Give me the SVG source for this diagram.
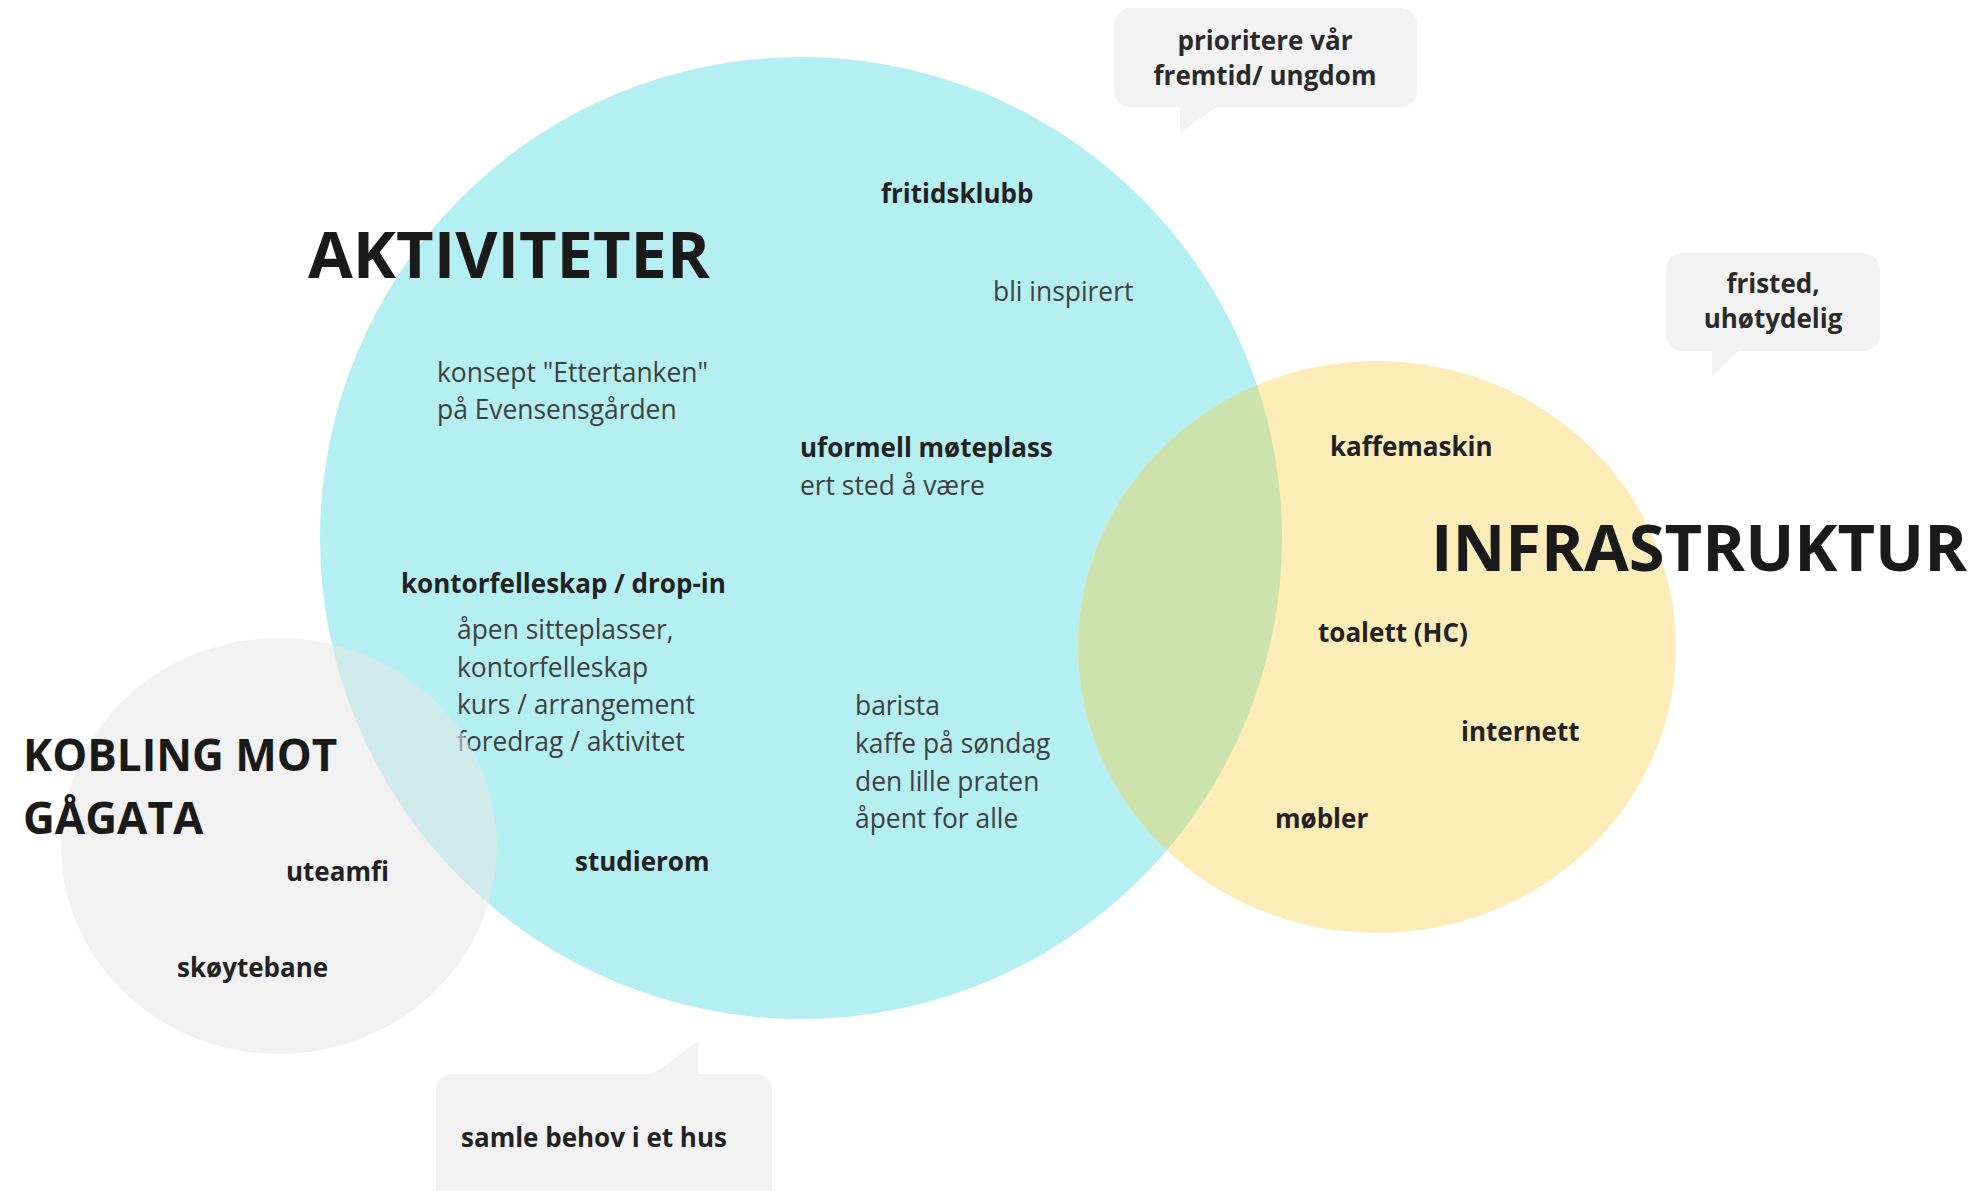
<svg xmlns="http://www.w3.org/2000/svg" width="1974" height="1191" viewBox="0 0 1974 1191">
  <style>
    text { font-family: "Open Sans", "Noto Sans", "Liberation Sans", sans-serif; }
    .b { font-weight: 700; font-size: 26px; fill: #222222; }
    .r { font-weight: 400; font-size: 26.4px; fill: #404040; }
    .title { font-weight: 700; fill: #1a1a1a; }
    .bubble { fill: #f2f2f2; }
    .bt { font-weight: 700; font-size: 26px; fill: #2a2a2a; text-anchor: middle; }
  </style>
  <defs>
    <clipPath id="yellowClip">
      <ellipse cx="1377" cy="647" rx="299" ry="286"/>
    </clipPath>
  </defs>
  <rect width="1974" height="1191" fill="#ffffff"/>

  <g id="aktiviteter">
    <circle cx="801" cy="538" r="481" fill="#b4eff2"/>
    <text class="title" x="308" y="278" font-size="65">AKTIVITETER</text>
    <text class="b" x="881" y="203">fritidsklubb</text>
    <text class="r" x="993" y="301">bli inspirert</text>
    <text class="r" x="437" y="382">konsept "Ettertanken"</text>
    <text class="r" x="437" y="419">på Evensensgården</text>
    <text class="b" x="800" y="457">uformell møteplass</text>
    <text class="r" x="800" y="495">ert sted å være</text>
    <text class="b" x="401" y="593">kontorfelleskap / drop-in</text>
    <text class="r" x="457" y="639">åpen sitteplasser,</text>
    <text class="r" x="457" y="677">kontorfelleskap</text>
    <text class="r" x="457" y="714">kurs / arrangement</text>
    <text class="r" x="457" y="751">foredrag / aktivitet</text>
    <text class="r" x="855" y="715">barista</text>
    <text class="r" x="855" y="753">kaffe på søndag</text>
    <text class="r" x="855" y="791">den lille praten</text>
    <text class="r" x="855" y="828">åpent for alle</text>
    <text class="b" x="575" y="871">studierom</text>
  </g>

  <g id="infrastruktur">
    <ellipse cx="1377" cy="647" rx="299" ry="286" fill="#fcecb8"/>
    <circle cx="801" cy="538" r="481" fill="#cde3ae" clip-path="url(#yellowClip)"/>
    <text class="b" x="1330" y="456">kaffemaskin</text>
    <text class="title" x="1431" y="571" font-size="65">INFRASTRUKTUR</text>
    <text class="b" x="1318" y="642">toalett (HC)</text>
    <text class="b" x="1461" y="741">internett</text>
    <text class="b" x="1275" y="828">møbler</text>
  </g>

  <g id="kobling">
    <ellipse cx="279" cy="846" rx="218" ry="208" fill="#e6e6e6" fill-opacity="0.55"/>
    <text class="title" x="23" y="771" font-size="44">KOBLING MOT</text>
    <text class="title" x="23" y="834" font-size="44">GÅGATA</text>
    <text class="b" x="286" y="881">uteamfi</text>
    <text class="b" x="177" y="977">skøytebane</text>
  </g>

  <g id="connectors"></g>

  <g id="bubble-prioritere">
    <rect class="bubble" x="1114" y="8" width="303" height="99" rx="16"/>
    <path class="bubble" d="M1180 100 L1180 133 L1226 100 Z"/>
    <text class="bt" x="1265" y="50">prioritere vår</text>
    <text class="bt" x="1265" y="85">fremtid/ ungdom</text>
  </g>

  <g id="bubble-fristed">
    <rect class="bubble" x="1666" y="253" width="214" height="98" rx="16"/>
    <path class="bubble" d="M1712 344 L1712 377 L1745 344 Z"/>
    <text class="bt" x="1773" y="293">fristed,</text>
    <text class="bt" x="1773" y="328">uhøtydelig</text>
  </g>

  <g id="bubble-samle">
    <rect class="bubble" x="436" y="1074" width="336" height="140" rx="16"/>
    <path class="bubble" d="M698 1041 L698 1080 L645 1080 Z"/>
    <text class="b" x="461" y="1147">samle behov i et hus</text>
  </g>
</svg>
